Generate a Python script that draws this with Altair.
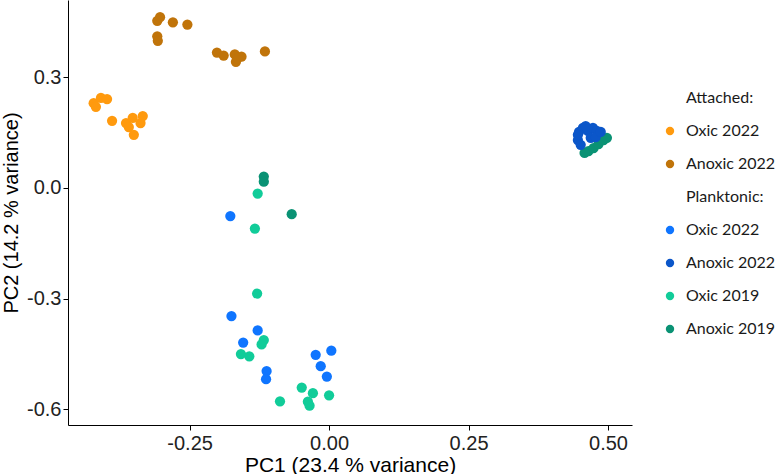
import altair as alt
import pandas as pd

# PCA scores (PC1, PC2) per sample group
att_oxic22_x = [-0.422, -0.418, -0.409, -0.398, -0.389, -0.364, -0.359, -0.352, -0.350, -0.338, -0.334]
att_oxic22_y = [0.230, 0.220, 0.244, 0.241, 0.182, 0.176, 0.165, 0.190, 0.144, 0.176, 0.195]

att_anox22_x = [-0.308, -0.303, -0.308, -0.307, -0.280, -0.254, -0.201, -0.189, -0.169, -0.167, -0.157, -0.115, -0.164]
att_anox22_y = [0.453, 0.463, 0.411, 0.399, 0.449, 0.443, 0.367, 0.359, 0.362, 0.342, 0.356, 0.370, 0.352]

pl_oxic22_x = [-0.177, -0.175, -0.128, -0.154, -0.112, -0.113, -0.024, 0.004, -0.015, -0.004]
pl_oxic22_y = [-0.076, -0.347, -0.386, -0.419, -0.496, -0.518, -0.452, -0.441, -0.483, -0.511]

pl_oxic19_x = [-0.128, -0.133, -0.129, -0.117, -0.121, -0.158, -0.143, -0.049, -0.029, 0.000, -0.088, -0.038, -0.035]
pl_oxic19_y = [-0.015, -0.110, -0.286, -0.412, -0.424, -0.450, -0.456, -0.541, -0.556, -0.562, -0.578, -0.579, -0.590]

pl_anox19_x = [-0.117, -0.117, -0.067, 0.465, 0.474, 0.483, 0.492, 0.498, 0.458]
pl_anox19_y = [0.031, 0.017, -0.071, 0.100, 0.108, 0.119, 0.130, 0.136, 0.095]

pl_anox22_x = [0.448, 0.455, 0.464, 0.473, 0.480, 0.446, 0.451, 0.469, 0.478, 0.487, 0.460, 0.446]
pl_anox22_y = [0.152, 0.163, 0.155, 0.163, 0.155, 0.130, 0.117, 0.136, 0.138, 0.152, 0.168, 0.144]

# legend entries (headers carry no points)
groups = ["Attached:", "Oxic 2022 (A)", "Anoxic 2022 (A)", "Planktonic:",
          "Oxic 2022", "Anoxic 2022", "Oxic 2019", "Anoxic 2019"]
colors = ["#FFFFFF", "#FF9A0E", "#C0740A", "#FFFFFF",
          "#0F75FF", "#0B56C9", "#11CC99", "#0A9274"]

series = [
    ("Oxic 2022 (A)", att_oxic22_x, att_oxic22_y),
    ("Anoxic 2022 (A)", att_anox22_x, att_anox22_y),
    ("Oxic 2022", pl_oxic22_x, pl_oxic22_y),
    ("Oxic 2019", pl_oxic19_x, pl_oxic19_y),
    ("Anoxic 2019", pl_anox19_x, pl_anox19_y),
    ("Anoxic 2022", pl_anox22_x, pl_anox22_y),
]
rows = []
for name, xs, ys in series:
    for a, b in zip(xs, ys):
        rows.append({"PC1": a, "PC2": b, "group": name})
df = pd.DataFrame(rows)

tick_font = "Liberation Sans"

chart = alt.Chart(df).mark_circle(size=105, opacity=1).encode(
    x=alt.X("PC1:Q",
            scale=alt.Scale(domain=[-0.468, 0.543], nice=False, zero=False),
            axis=alt.Axis(title="PC1 (23.4 % variance)", values=[-0.25, 0, 0.25, 0.5],
                          labelExpr="datum.value < 0 ? '-' + format(abs(datum.value), '.2f') : format(datum.value, '.2f')",
                          titlePadding=1, labelPadding=3)),
    y=alt.Y("PC2:Q",
            scale=alt.Scale(domain=[-0.6423, 0.5095], nice=False, zero=False),
            axis=alt.Axis(title="PC2 (14.2 % variance)", values=[-0.6, -0.3, 0, 0.3],
                          labelExpr="datum.value < 0 ? '-' + format(abs(datum.value), '.1f') : format(datum.value, '.1f')",
                          titlePadding=5, labelPadding=2, titleFontSize=20)),
    color=alt.Color("group:N",
                    scale=alt.Scale(domain=groups, range=colors),
                    legend=alt.Legend(title=None, orient="none", legendX=594, legendY=90,
                                      labelExpr="replace(datum.label, ' (A)', '')",
                                      symbolType="circle", symbolSize=70, symbolStrokeWidth=0,
                                      labelFont="Lato", labelFontSize=16, labelColor="#1a1a1a",
                                      labelOffset=8, rowPadding=17, padding=0)),
).properties(
    width=564, height=425,
    autosize=alt.AutoSizeParams(type="none"),
    padding={"left": 68, "top": 0, "right": 146, "bottom": 49},
).configure_view(stroke=None).configure_axis(
    grid=False, domainColor="black", domainWidth=1, tickColor="black", tickSize=5,
    labelFont=tick_font, labelFontSize=20, labelColor="#222222",
    titleFont=tick_font, titleFontSize=21, titleFontWeight="normal", titleColor="black",
)

chart.save("out.html", embed_options={"renderer": "svg", "actions": False})
